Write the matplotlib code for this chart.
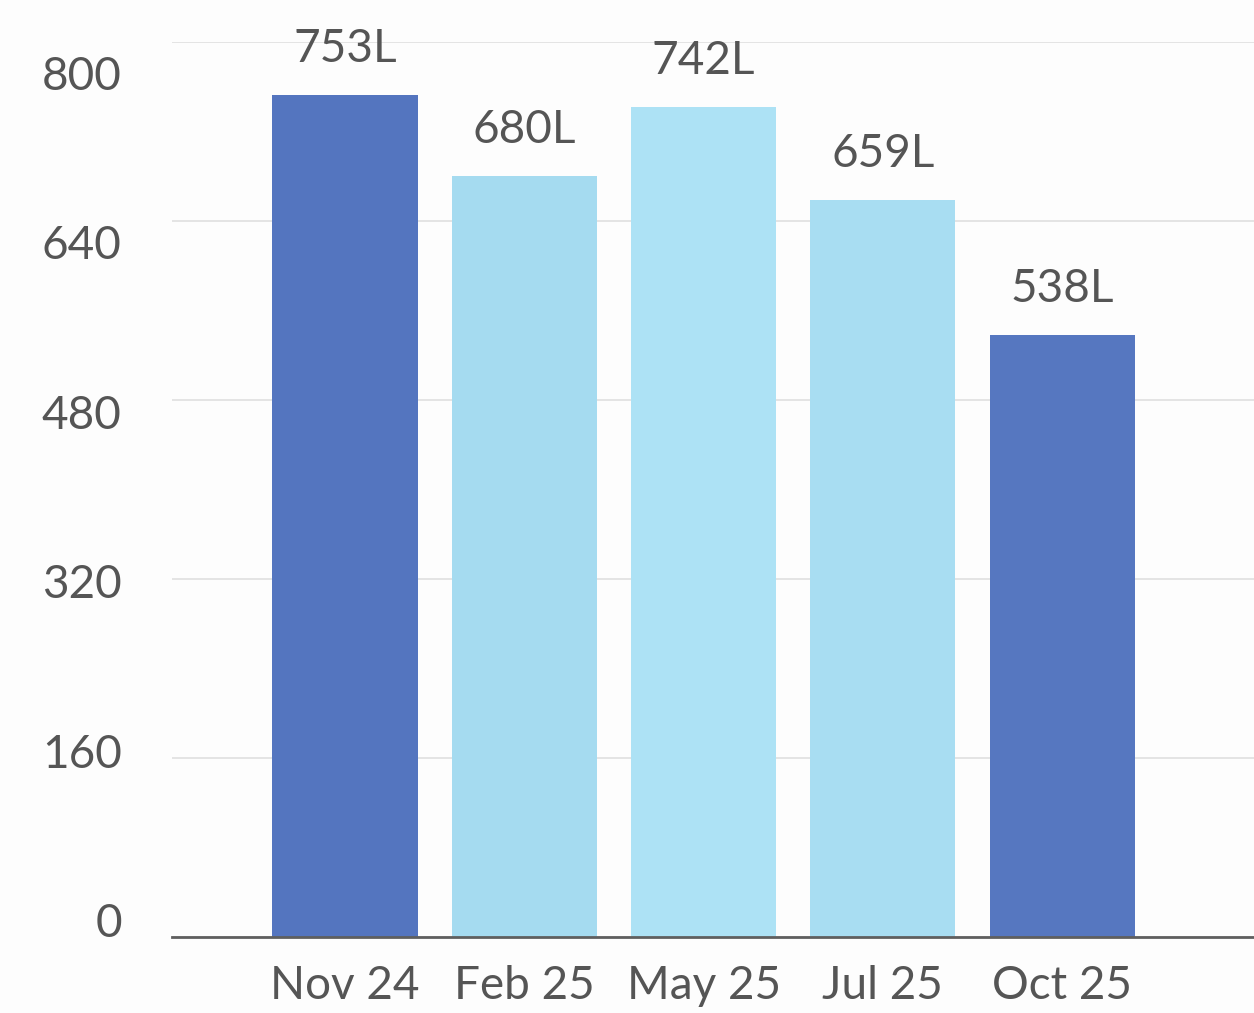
import matplotlib
matplotlib.use("Agg")
import matplotlib.pyplot as plt
import matplotlib.transforms as mtransforms

categories = ["Nov 24", "Feb 25", "May 25", "Jul 25", "Oct 25"]
values = [753, 680, 742, 659, 538]
value_labels = ["753L", "680L", "742L", "659L", "538L"]
bar_colors = ["#5475bf", "#a5dbf0", "#ade2f5", "#a8ddf2", "#5677c0"]
yticks = [0, 160, 320, 480, 640, 800]

plt.rcParams['font.family'] = ['Lato', 'DejaVu Sans']
text_color = "#555555"

fig = plt.figure(figsize=(12.54, 10.13), dpi=100)
fig.patch.set_facecolor("#fdfdfd")
ax = fig.add_axes([0.137, 0.075, 0.863, 0.8835])
ax.set_facecolor("#fdfdfd")

x = list(range(len(categories)))
bars = ax.bar(x, values, width=0.81, color=bar_colors, zorder=3)

for b, lab in zip(bars, value_labels):
    ax.annotate(lab, (b.get_x() + b.get_width() / 2, b.get_height()),
                xytext=(0, 18), textcoords="offset points",
                ha="center", va="bottom", fontsize=33, color=text_color)

ax.set_ylim(0, 800)
ax.set_xlim(-0.966, 5.07)
ax.set_yticks(yticks)
ax.set_yticklabels([str(v) for v in yticks])
ax.set_xticks(x)
ax.set_xticklabels(categories)
ax.tick_params(axis="y", length=0, pad=36, labelsize=33, labelcolor=text_color)
ax.tick_params(axis="x", length=0, pad=20, labelsize=33, labelcolor=text_color)

# photo-like vertical drift of the y tick labels relative to gridlines
ymax = ax.get_ylim()[1]
for v, lbl in zip(yticks, ax.get_yticklabels()):
    dy_px = 17 - 48 * (v / ymax)
    lbl.set_transform(lbl.get_transform() +
                      mtransforms.ScaledTranslation(0, dy_px / 100, fig.dpi_scale_trans))

ax.grid(axis="y", color="#e2e2e2", linewidth=1.3, zorder=0)
ax.set_axisbelow(True)
for s in ["top", "right", "left"]:
    ax.spines[s].set_visible(False)
ax.spines["bottom"].set_color("#5f5f5f")
ax.spines["bottom"].set_linewidth(2)
ax.spines["bottom"].set_zorder(4)

fig.savefig("out.png", dpi=100, facecolor=fig.get_facecolor())
